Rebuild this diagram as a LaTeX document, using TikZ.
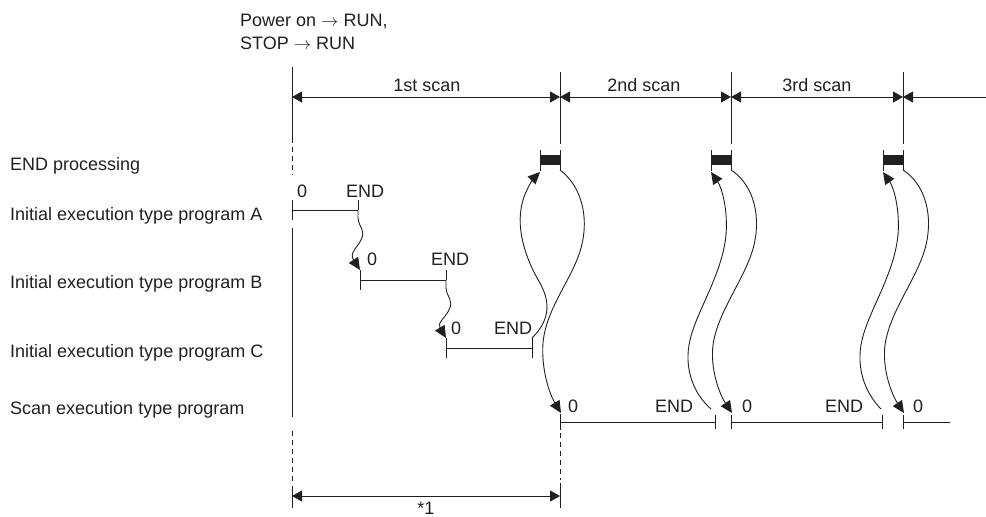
\documentclass[tikz,border=0pt]{standalone}
\usepackage{fontspec}
\setmainfont{Liberation Sans}
\usetikzlibrary{arrows.meta}
\definecolor{ink}{HTML}{231F20}
\begin{document}
\begin{tikzpicture}[x=1pt,y=-1pt,
  ln/.style={draw=ink, line width=1pt},
  thin/.style={draw=ink, line width=0.9pt},
  dsh/.style={draw=ink, line width=1pt, dash pattern=on 5pt off 4pt},
  dimtip/.tip={Triangle[length=10pt,width=11pt]},
  dim/.style={ln, dimtip-dimtip},
  flow/.style={thin, -{Triangle[length=12pt,width=11pt]}},
  lbl/.style={font=\fontsize{18}{21}\selectfont, text=ink, inner sep=0pt},
  bar/.style={fill=ink, draw=none},
]
\useasboundingbox (0,0) rectangle (986,517);

% ---------- texts ----------
\node[lbl, anchor=base west] (t1) at (240,26) {Power on \(\rightarrow\) RUN,};
\node[lbl, anchor=base west] (t2) at (240,49) {STOP \(\rightarrow\) RUN};
\node[lbl, anchor=base] (s1) at (427,91) {1st scan};
\node[lbl, anchor=base] (s2) at (644,91) {2nd scan};
\node[lbl, anchor=base] (s3) at (817,91) {3rd scan};
\node[lbl, anchor=base west] (lend) at (10,170) {END processing};
\node[lbl, anchor=base west] (la) at (10,220) {Initial execution type program A};
\node[lbl, anchor=base west] (lb) at (10,288) {Initial execution type program B};
\node[lbl, anchor=base west] (lc) at (10,357) {Initial execution type program C};
\node[lbl, anchor=base west] (ls) at (10,414) {Scan execution type program};
\node[lbl, anchor=base west] (a0) at (297,197) {0};
\node[lbl, anchor=base] (ae) at (365,197) {END};
\node[lbl, anchor=base west] (b0) at (367,265) {0};
\node[lbl, anchor=base] (be) at (450,265) {END};
\node[lbl, anchor=base west] (c0) at (451,334) {0};
\node[lbl, anchor=base] (ce) at (513,334) {END};
\node[lbl, anchor=base west] (p0) at (568,412) {0};
\node[lbl, anchor=base] (pe) at (674,412) {END};
\node[lbl, anchor=base west] (q0) at (742,412) {0};
\node[lbl, anchor=base] (qe) at (844,412) {END};
\node[lbl, anchor=base west] (r0) at (913,412) {0};
\node[lbl, anchor=base] (star) at (426,514) {*1};

% ---------- key coordinates ----------
\coordinate (L0) at (292,67);   \coordinate (L1) at (292,143);
\coordinate (L2) at (292,147);  \coordinate (L3) at (292,175);
\coordinate (L4) at (292,228);  \coordinate (L5) at (292,417);
\coordinate (L6) at (292,431);  \coordinate (L7) at (292,482);
\coordinate (L8) at (292,486);  \coordinate (L9) at (292,508);
\coordinate (V1t) at (560,72);  \coordinate (V1b) at (560,144);
\coordinate (V2t) at (731,72);  \coordinate (V2b) at (731,144);
\coordinate (V3t) at (903,72);  \coordinate (V3b) at (903,144);
\coordinate (D0) at (292,97); \coordinate (D1) at (560,97);
\coordinate (D2) at (731,97); \coordinate (D3) at (903,97);
\coordinate (D4) at (986,97);

% ---------- vertical guide lines ----------
\draw[ln] (L0) -- (L1);
\draw[dsh] (L2) -- (L3);
\draw[ln] (L4) -- (L5);
\draw[dsh] (L6) -- (L7);
\draw[ln] (L8) -- (L9);
\draw[ln] (V1t) -- (V1b);
\draw[ln] (V2t) -- (V2b);
\draw[ln] (V3t) -- (V3b);

% ---------- scan dimension arrows ----------
\draw[dim] (D0) -- (D1);
\draw[dim] (D1) -- (D2);
\draw[dim] (D2) -- (D3);
\draw[ln, dimtip-] (D3) -- (D4);

% ---------- END processing bars ----------
\foreach \xa/\xb/\n in {540/560/1, 711/731/2, 883/903/3}{
  \fill[bar] (\xa,155) rectangle (\xb,165);
  \draw[thin] (\xa,150) -- (\xa,171);
  \draw[thin] (\xb,150) -- (\xb,170);
  \coordinate (bl\n) at (\xa,172);
  \coordinate (br\n) at (\xb,170);
}

% ---------- initial programs ----------
\coordinate (As) at (292,210); \coordinate (Ae) at (358,210);
\draw[thin] (292,200) -- (292,220);
\draw[thin] (358,200) -- (Ae);
\draw[thin] (As) -- (Ae);
\coordinate (Bs) at (360,280); \coordinate (Be) at (446,280);
\draw[thin] (360,270) -- (360,290);
\draw[thin] (446,270) -- (Be);
\draw[thin] (Bs) -- (Be);
\coordinate (Cs) at (446,348); \coordinate (Ce) at (532,348);
\draw[thin] (446,338) -- (446,358);
\draw[thin] (532,338) -- (532,358);
\draw[thin] (Cs) -- (Ce);
\coordinate (Btop) at (360,270);
\coordinate (Ctop) at (446,338);
\coordinate (CEtop) at (532,338);

% wavy transitions
\draw[flow] (Ae) -- (358,218) .. controls (359,228) and (366,230) .. (361,240)
  .. controls (357,248) and (349,253) .. (Btop);
\draw[flow] (Be) -- (446,288) .. controls (447,298) and (454,300) .. (449,310)
  .. controls (445,318) and (437,323) .. (Ctop);

% ---------- scan program ----------
\coordinate (P1s) at (560,422); \coordinate (P1e) at (715,422);
\coordinate (P2s) at (731,422); \coordinate (P2e) at (882,422);
\coordinate (P3s) at (903,422); \coordinate (P3e) at (950,422);
\draw[thin] (P1s) -- (P1e);
\draw[thin] (P2s) -- (P2e);
\draw[thin] (P3s) -- (P3e);
\draw[thin] (560,414) -- (560,430);
\draw[thin] (715,415) -- (715,429);
\draw[thin] (731,415) -- (731,429);
\draw[thin] (882,415) -- (882,429);
\draw[thin] (903,415) -- (903,429);
\coordinate (S1top) at (561,413);
\coordinate (S2top) at (732,413);
\coordinate (S3top) at (904,413);
\coordinate (E1) at (711,409);
\coordinate (E2) at (881,409);
\coordinate (M0) at (560,433); \coordinate (M1) at (560,480);
\coordinate (M2) at (560,483); \coordinate (M3) at (560,508);
\draw[dsh] (M0) -- (M1);
\draw[ln] (M2) -- (M3);
\coordinate (K0) at (292,496); \coordinate (K1) at (560,496);
\draw[dim] (K0) -- (K1);

% ---------- scan loops ----------
% 1st
\draw[flow] (CEtop) .. controls (548,322) and (552,305) .. (540,283)
  .. controls (525,258) and (514,225) .. (524,197)
  .. controls (528,186) and (534,178) .. (bl1);
\draw[flow] (br1) .. controls (580,185) and (590,215) .. (581,248)
  .. controls (573,278) and (546,308) .. (543,343)
  .. controls (541,370) and (550,395) .. (S1top);
% 2nd
\draw[flow] (E1) .. controls (695,395) and (683,370) .. (690,340)
  .. controls (697,310) and (722,275) .. (726,235)
  .. controls (728,210) and (722,188) .. (bl2);
\draw[flow] (br2) .. controls (750,182) and (762,210) .. (754,245)
  .. controls (746,278) and (718,310) .. (713,345)
  .. controls (710,370) and (720,395) .. (S2top);
% 3rd
\draw[flow] (E2) .. controls (867,395) and (855,370) .. (862,340)
  .. controls (869,310) and (894,275) .. (898,235)
  .. controls (900,210) and (894,188) .. (bl3);
\draw[flow] (br3) .. controls (922,182) and (934,210) .. (926,245)
  .. controls (918,278) and (890,310) .. (885,345)
  .. controls (882,370) and (892,395) .. (S3top);
\end{tikzpicture}
\end{document}
